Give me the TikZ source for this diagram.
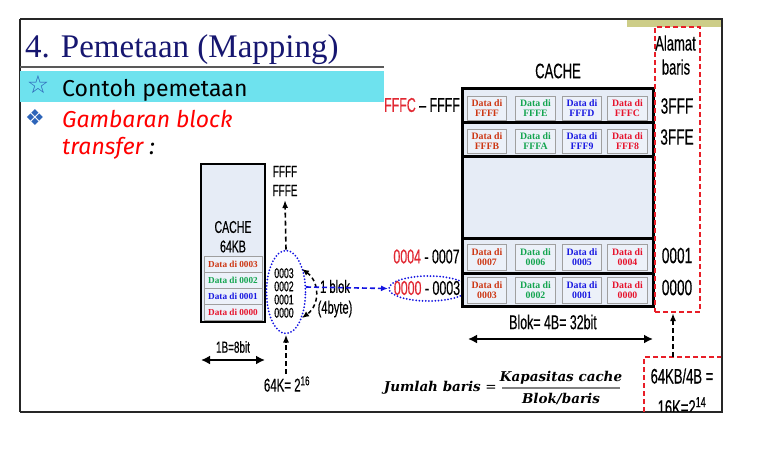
\documentclass[tikz,border=0pt]{standalone}
\usepackage{fontspec}
\setmainfont{Liberation Serif}
\newfontfamily\narrowf[FakeStretch=0.62,FakeBold=0.35]{Liberation Sans}
\newfontfamily\comicf{Fira Sans}
\newfontfamily\symf{DejaVu Sans}
\newfontfamily\frmf{DejaVu Serif}
\usetikzlibrary{shapes.geometric,arrows.meta}
\definecolor{navy}{RGB}{22,22,112}
\definecolor{cyanbar}{RGB}{110,226,238}
\definecolor{olive}{RGB}{205,205,136}
\definecolor{boxfill}{RGB}{230,236,246}
\definecolor{cellfill}{RGB}{236,241,249}
\definecolor{cone}{RGB}{205,55,20}
\definecolor{ctwo}{RGB}{20,165,80}
\definecolor{cthree}{RGB}{25,25,225}
\definecolor{cfour}{RGB}{230,20,45}
\definecolor{lblred}{RGB}{225,40,50}
\definecolor{dashred}{RGB}{232,30,40}
\definecolor{dotblue}{RGB}{20,20,225}
\definecolor{bulletblue}{RGB}{45,100,185}
\begin{document}
\begin{tikzpicture}[x=1pt,y=-1pt,
  lbl/.style={font=\narrowf\fontsize{20}{22}\selectfont, inner sep=0pt},
  slbl/.style={font=\narrowf\fontsize{16}{17}\selectfont, inner sep=0pt},
  cell/.style={draw=gray!75, fill=cellfill, line width=0.8pt, minimum width=39.5pt, minimum height=24pt, inner sep=0pt, align=center, font=\bfseries\fontsize{9.8}{10.5}\selectfont},
  lcell/.style={draw=gray!75, fill=cellfill, line width=0.8pt, minimum width=58pt, minimum height=16.5pt, inner sep=0pt, font=\bfseries\fontsize{9.2}{9.5}\selectfont},
  rowbox/.style={draw=black, line width=3pt, fill=boxfill},
  redbox/.style={draw=dashred, line width=1.6pt, dash pattern=on 5pt off 3pt},
  dotell/.style={ellipse, draw=dotblue, line width=2pt, dash pattern=on 0pt off 3.2pt, line cap=round, inner sep=0pt},
  blkarrow/.style={black, line width=1.6pt, dash pattern=on 5pt off 3pt, -{Latex[length=8pt,width=6pt]}},
  dblarrow/.style={black, line width=2.6pt, {Latex[length=9pt,width=9pt]}-{Latex[length=9pt,width=9pt]}},
  frm/.style={font=\frmf\bfseries\itshape\fontsize{13.5}{15}\selectfont, inner sep=0pt}
]
\useasboundingbox (0,0) rectangle (771,475);

% frame
\fill[olive] (627,19) rectangle (723,27);
\draw[line width=2pt, black!85] (20,19) -- (723,19);
\draw[line width=2pt, black!85] (20,19) -- (20,412);
\draw[line width=2pt, black!85] (722,19) -- (722,412);
\draw[line width=2pt, black!85] (20,412) -- (723,412);

% title
\node[anchor=base west, inner sep=0pt, text=navy, font=\fontsize{33}{36}\selectfont] (title) at (25,57) {4. Pemetaan (Mapping)};
\draw[line width=2.2pt, black!65] (20,67) -- (384,67);
\fill[cyanbar] (20,71) rectangle (384,101.5);
\node[text=bulletblue, font=\symf\bfseries\fontsize{25}{26}\selectfont, inner sep=0pt] (star) at (38,85) {☆};
\node[anchor=base west, inner sep=0pt, font=\comicf\fontsize{23}{26}\selectfont] (contoh) at (62,96) {Contoh pemetaan};
\node[text=bulletblue, font=\symf\fontsize{22}{24}\selectfont, inner sep=0pt] (diam) at (35,118) {❖};
\node[anchor=base west, inner sep=0pt, text=red, font=\comicf\itshape\fontsize{23}{26}\selectfont] (gamb) at (62,127) {Gambaran block};
\node[anchor=base west, inner sep=0pt, text=red, font=\comicf\itshape\fontsize{23}{26}\selectfont] (transf) at (62,154) {transfer {\color{black}:}};

% left cache
\node[draw=black, line width=2.5pt, fill=boxfill, minimum width=64pt, minimum height=158pt, inner sep=0pt] (lcache) at (233,243) {};
\node[lbl, font=\narrowf\fontsize{17}{18}\selectfont] (lcachet) at (233,227) {CACHE};
\node[lbl, font=\narrowf\fontsize{17}{18}\selectfont] (lcachekb) at (233,246.5) {64KB};
\node[lcell, text=cone] (l3) at (233,264.5) {Data di 0003};
\node[lcell, text=ctwo] (l2) at (233,280.5) {Data di 0002};
\node[lcell, text=cthree] (l1) at (233,296.5) {Data di 0001};
\node[lcell, text=cfour] (l0) at (233,312.5) {Data di 0000};

% left address labels
\node[slbl] (ffff) at (285,171.5) {FFFF};
\node[slbl] (fffe) at (285,190.5) {FFFE};
\node[dotell, minimum width=39pt, minimum height=83pt] (ell1) at (286,292) {};
\node[slbl, align=center, font=\narrowf\fontsize{14}{13.2}\selectfont] (addrs) at (284,293) {0003\\0002\\0001\\0000};
\coordinate (uptip) at (285,200);
\coordinate (lowstart) at (286,374);
\draw[blkarrow] (ell1.north) -- (uptip);
\draw[blkarrow] (lowstart) -- (ell1.south);
\coordinate (cvA) at (302,269);
\coordinate (cvB) at (302,318);
\draw[black, line width=1.5pt, dash pattern=on 4pt off 3pt, {Latex[length=7pt,width=6pt]}-{Latex[length=7pt,width=6pt]}] (cvA) .. controls (320,282) and (320,305) .. (cvB);
\node[slbl, font=\narrowf\fontsize{18}{19}\selectfont] (blok1) at (335,286.5) {1 blok};
\node[slbl, font=\narrowf\fontsize{18}{19}\selectfont] (byte4) at (335,309) {(4byte)};
\node[slbl] (b8) at (233,347) {1B=8bit};
\coordinate (b8L) at (201,360);
\coordinate (b8R) at (265,360);
\draw[dblarrow, line width=2.2pt] (b8L) -- (b8R);
\node[lbl, font=\narrowf\fontsize{18.5}{20}\selectfont] (k64) at (287,384) {64K= 2\textsuperscript{16}};

% right address labels
\node[lbl] (fffcl) at (422,105) {{\color{lblred}FFFC} – FFFF};
\node[lbl] (l47) at (426.5,256.5) {{\color{lblred}0004} - 0007};
\node[dotell, minimum width=79pt, minimum height=25pt] (ell2) at (428.5,288.5) {};
\node[lbl] (l03) at (427,288) {{\color{lblred}0000} - 0003};
\coordinate (bstart) at (306,287);
\draw[dotblue, line width=1.6pt, dash pattern=on 5pt off 3pt, -{Latex[length=7pt,width=6pt]}] (bstart) -- (ell2.west);

% big cache
\node[lbl, font=\narrowf\fontsize{21}{22}\selectfont] (bcachet) at (558,71) {CACHE};
\draw[rowbox] (462,88) rectangle (653,122);
\draw[rowbox] (462,122) rectangle (653,156);
\draw[rowbox] (462,156) rectangle (653,238);
\draw[rowbox] (462,238) rectangle (653,273);
\draw[rowbox] (462,273) rectangle (653,306);
% row A
\node[cell, text=cone] (cA1) at (487,108) {Data di\\FFFF};
\node[cell, text=ctwo] (cA2) at (535.5,108) {Data di\\FFFE};
\node[cell, text=cthree] (cA3) at (582,108) {Data di\\FFFD};
\node[cell, text=cfour] (cA4) at (627.5,108) {Data di\\FFFC};
% row B
\node[cell, text=cone] (cB1) at (487,141) {Data di\\FFFB};
\node[cell, text=ctwo] (cB2) at (535.5,141) {Data di\\FFFA};
\node[cell, text=cthree] (cB3) at (582,141) {Data di\\FFF9};
\node[cell, text=cfour] (cB4) at (627.5,141) {Data di\\FFF8};
% row C
\node[cell, minimum height=26pt, text=cone] (cC1) at (487,257) {Data di\\0007};
\node[cell, minimum height=26pt, text=ctwo] (cC2) at (535.5,257) {Data di\\0006};
\node[cell, minimum height=26pt, text=cthree] (cC3) at (582,257) {Data di\\0005};
\node[cell, minimum height=26pt, text=cfour] (cC4) at (627.5,257) {Data di\\0004};
% row D
\node[cell, minimum height=26pt, text=cone] (cD1) at (487,290) {Data di\\0003};
\node[cell, minimum height=26pt, text=ctwo] (cD2) at (535.5,290) {Data di\\0002};
\node[cell, minimum height=26pt, text=cthree] (cD3) at (582,290) {Data di\\0001};
\node[cell, minimum height=26pt, text=cfour] (cD4) at (627.5,290) {Data di\\0000};

\node[lbl] (blokt) at (553,322) {Blok= 4B= 32bit};
\coordinate (blL) at (468,339);
\coordinate (blR) at (653,339);
\draw[dblarrow] (blL) -- (blR);

% alamat baris
\node[redbox, minimum width=45pt, minimum height=285pt, inner sep=0pt] (alamat) at (677.5,169.5) {};
\node[lbl, font=\narrowf\fontsize{21}{22}\selectfont] (alt) at (675.5,43) {Alamat};
\node[lbl, font=\narrowf\fontsize{21}{22}\selectfont] (bart) at (676,67) {baris};
\node[lbl, font=\narrowf\fontsize{22}{24}\selectfont] (r3fff) at (677,106) {3FFF};
\node[lbl, font=\narrowf\fontsize{22}{24}\selectfont] (r3ffe) at (677,137) {3FFE};
\node[lbl, font=\narrowf\fontsize{22}{24}\selectfont] (r0001) at (677,255.5) {0001};
\node[lbl, font=\narrowf\fontsize{22}{24}\selectfont] (r0000) at (677,287.5) {0000};

% bottom right box
\begin{scope}
\clip (0,0) rectangle (721,411);
\node[redbox, minimum width=79pt, minimum height=80pt, inner sep=0pt] (calc) at (683.5,397) {};
\node[lbl, font=\narrowf\fontsize{21}{22}\selectfont] (calc1) at (682,376) {64KB/4B =};
\node[lbl, font=\narrowf\fontsize{21}{22}\selectfont] (calc2) at (682,406) {16K=2\textsuperscript{14}};
\end{scope}
\coordinate (vaS) at (673,357);
\coordinate (vaT) at (673,313);
\draw[blkarrow] (vaS) -- (vaT);

% formula
\node[frm, anchor=east] (jb) at (497,388) {Jumlah baris {\upshape\mdseries =}};
\node[frm] (num) at (561,377.5) {Kapasitas cache};
\node[frm] (den) at (561,399) {Blok/baris};
\coordinate (frL) at (502,388);
\coordinate (frR) at (620,388);
\draw[line width=1.2pt, gray] (frL) -- (frR);
\end{tikzpicture}
\end{document}
